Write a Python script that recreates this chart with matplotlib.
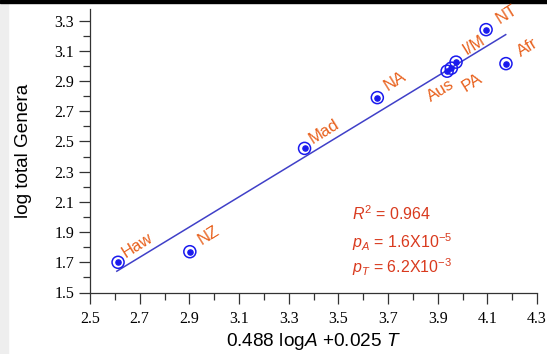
import numpy as np
import matplotlib
matplotlib.use("Agg")
import matplotlib.pyplot as plt
from matplotlib.ticker import MultipleLocator

plt.rcParams["mathtext.fontset"] = "custom"
plt.rcParams["mathtext.rm"] = "Liberation Sans"
plt.rcParams["mathtext.it"] = "Liberation Sans:italic"

# Regions and their values
regions = ["Haw", "NZ", "Mad", "NA", "Aus", "PA", "I/M", "NT", "Afr"]
x_vals = [2.613, 2.902, 3.364, 3.657, 3.938, 3.955, 3.974, 4.095, 4.175]
y_vals = [1.700, 1.770, 2.454, 2.790, 2.965, 2.985, 3.025, 3.240, 3.015]

# Regression line (slope, intercept) and x extent
fit_slope = 1.0
fit_intercept = -0.967
fit_x = [2.608, 4.174]

x_ticks = [2.5, 2.7, 2.9, 3.1, 3.3, 3.5, 3.7, 3.9, 4.1, 4.3]
y_ticks = [1.5, 1.7, 1.9, 2.1, 2.3, 2.5, 2.7, 2.9, 3.1, 3.3]

# label offsets in points (dx, dy)
label_offsets = {
    "Haw": (1, 1), "NZ": (4, 3), "Mad": (1, 1), "NA": (3, 3),
    "Aus": (-16, -24), "PA": (6, -19), "I/M": (3, 3), "NT": (5, 2), "Afr": (6, 3),
}

blue = "#1a1aee"
line_blue = "#4040c8"
orange = "#e8601c"
red = "#d93a1e"

fig = plt.figure(figsize=(5.47, 3.54), dpi=100)
# screenshot frame: grey strip on left, black bar on top
fig.patches.append(plt.Rectangle((0, 0), 8 / 547, 1, transform=fig.transFigure,
                                 color="#eeeeee", zorder=-1))
fig.patches.append(plt.Rectangle((0, 1 - 3 / 354), 1, 3 / 354, transform=fig.transFigure,
                                 color="black", zorder=-1))

ax = fig.add_axes([90 / 547, 1 - 292.5 / 354, 447 / 547, 284 / 354])

xs = np.array(fit_x)
ax.plot(xs, fit_slope * xs + fit_intercept, color=line_blue, lw=1.1, zorder=2)

ax.scatter(x_vals, y_vals, s=75, facecolors="none", edgecolors=blue, linewidths=1.1, zorder=3)
ax.scatter(x_vals, y_vals, s=14, color=blue, zorder=4)

for name, x, y in zip(regions, x_vals, y_vals):
    dx, dy = label_offsets[name]
    ax.annotate(name, (x, y), xytext=(dx, dy), textcoords="offset points",
                color=orange, fontsize=12, rotation=32, family="Liberation Sans",
                ha="left", va="bottom")

stats = ["$R^2$ = 0.964", "$p_A$ = 1.6X10$^{-5}$", "$p_T$ = 6.2X10$^{-3}$"]
stats_y = [2.02, 1.83, 1.67]
for s, yy in zip(stats, stats_y):
    ax.text(3.555, yy, s, color=red, fontsize=11.5, family="Liberation Sans",
            ha="left", va="center")

ax.set_xlim(2.5, 4.3)
ax.set_ylim(1.5, 3.38)
ax.set_xticks(x_ticks)
ax.set_xticklabels([f"{v:.1f}" for v in x_ticks])
ax.xaxis.set_minor_locator(MultipleLocator(0.1))
ax.set_yticks(y_ticks)
ax.set_yticklabels([f"{v:.1f}" for v in y_ticks])
ax.yaxis.set_minor_locator(MultipleLocator(0.1))
ax.spines["top"].set_visible(False)
ax.spines["right"].set_visible(False)
for s in ("left", "bottom"):
    ax.spines[s].set_linewidth(0.9)
    ax.spines[s].set_color("#333333")
ax.tick_params(which="major", direction="out", length=8, width=0.9, color="#333333")
ax.tick_params(which="minor", direction="out", length=5, width=0.9, color="#333333")
ax.tick_params(axis="x", pad=5)
ax.tick_params(labelsize=11.5)
for lab in ax.get_xticklabels() + ax.get_yticklabels():
    lab.set_family("Liberation Serif")

ax.set_ylabel("log total Genera", fontsize=13.7, family="Liberation Sans", labelpad=16)
ax.set_xlabel("0.488 log$A$ +0.025 $T$", fontsize=13.7, family="Liberation Sans", labelpad=3)

fig.savefig("out.png", dpi=100)
